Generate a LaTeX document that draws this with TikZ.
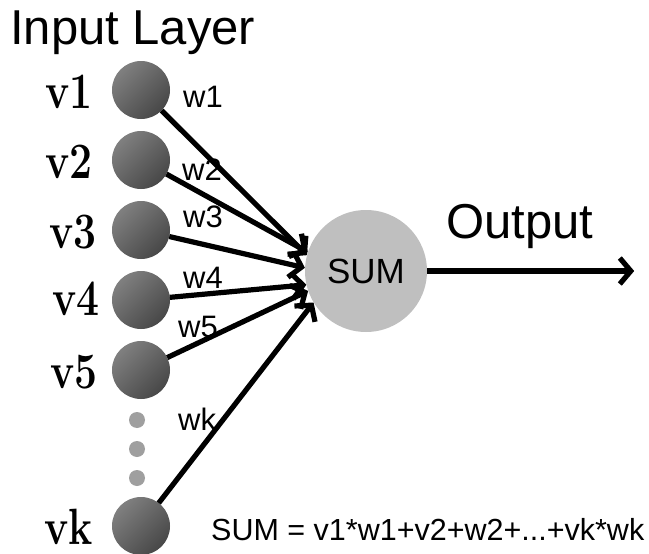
\RequirePackage{fix-cm}
\documentclass[tikz,border=0pt]{standalone}
\usepackage{fontspec}
\setsansfont{Liberation Sans}
\usetikzlibrary{arrows.meta, positioning}

\newcommand{\vtext}[1]{\scalebox{0.8}[1]{#1}}

\begin{document}
\begin{tikzpicture}
   [
      x=1pt, y=-1pt,
      input/.style={circle, minimum size=58pt, inner sep=0pt, outer sep=0pt,
                    top color=gray!100, bottom color=black!72, shading angle=45},
      gap dot/.style={circle, fill=gray!75, minimum size=16pt, inner sep=0pt, outer sep=0pt},
      sum node/.style={circle, fill=gray!50, minimum size=122pt, inner sep=0pt,
                       font=\sffamily\fontsize{35}{35}\selectfont},
      vlabel/.style={anchor=base east, yshift=-18pt, inner sep=0pt,
                     font=\fontsize{51}{51}\selectfont\bfseries},
      wlabel/.style={anchor=base west, inner sep=0pt,
                     font=\sffamily\fontsize{31}{31}\selectfont},
      big text/.style={inner sep=0pt, font=\sffamily\fontsize{49}{49}\selectfont},
      wire/.style={line width=5.2pt, -{Straight Barb[length=11pt, width=26pt]}}
   ]

   \useasboundingbox (0,0) rectangle (649,554);

   % =======================================================
   % Input layer
   % =======================================================

   % Neurons
   \node[input] (v1) at (141,90) {};
   \node[input, below=12pt of v1] (v2) {};
   \node[input, below=12pt of v2] (v3) {};
   \node[input, below=12pt of v3] (v4) {};
   \node[input, below=12pt of v4] (v5) {};

   % Dots for the skipped neurons
   \node[gap dot, below=13pt of v5, xshift=-4pt] (dot1) {};
   \node[gap dot, below=13pt of dot1] (dot2) {};
   \node[gap dot, below=13pt of dot2] (dot3) {};

   \node[input, below=11pt of dot3, xshift=4pt] (vk) {};

   % Neuron names
   \node[left=19pt of v1, vlabel] (lv1) {\vtext{v\oldstylenums{1}}};
   \node[left=19pt of v2, vlabel] (lv2) {\vtext{v\oldstylenums{2}}};
   \node[left=15pt of v3, vlabel] (lv3) {\vtext{v\oldstylenums{3}}};
   \node[left=12pt of v4, vlabel, yshift=3pt] (lv4) {\vtext{v\oldstylenums{4}}};
   \node[left=14pt of v5, vlabel] (lv5) {\vtext{v\oldstylenums{5}}};
   \node[left=19pt of vk, vlabel] (lvk) {\vtext{vk}};

   \node[big text, anchor=base west] (title) at (10,45) {Input Layer};

   % =======================================================
   % Summation node and output
   % =======================================================

   \node[sum node] (sum) at (366,271) {SUM};
   \coordinate[right=207pt of sum] (out);

   % Weighted connections
   \draw[wire] (v1) -- (sum.165);
   \draw[wire] (v2) -- (sum.162);
   \draw[wire] (v3) -- (sum.177);
   \draw[wire] (v4) -- (sum.193);
   \draw[wire] (v5) -- (sum.199);
   \draw[wire] (vk) -- (sum.211);

   % Weight labels
   \node[wlabel] (w1) at (183,107) {w1};
   \node[wlabel] (w2) at (182,180) {w2};
   \node[wlabel] (w3) at (183,227) {w3};
   \node[wlabel] (w4) at (183,288) {w4};
   \node[wlabel] (w5) at (178,337) {w5};
   \node[wlabel] (wk) at (178,430) {wk};

   % Output
   \draw[wire] (sum) -- (out);
   \node[big text, anchor=base] (outlabel) at (520,238) {Output};

   % Formula
   \node[wlabel, font=\sffamily\fontsize{30.5}{30.5}\selectfont] (formula) at (211,540)
      {SUM = v1*w1+v2+w2+...+vk*wk};

\end{tikzpicture}
\end{document}
